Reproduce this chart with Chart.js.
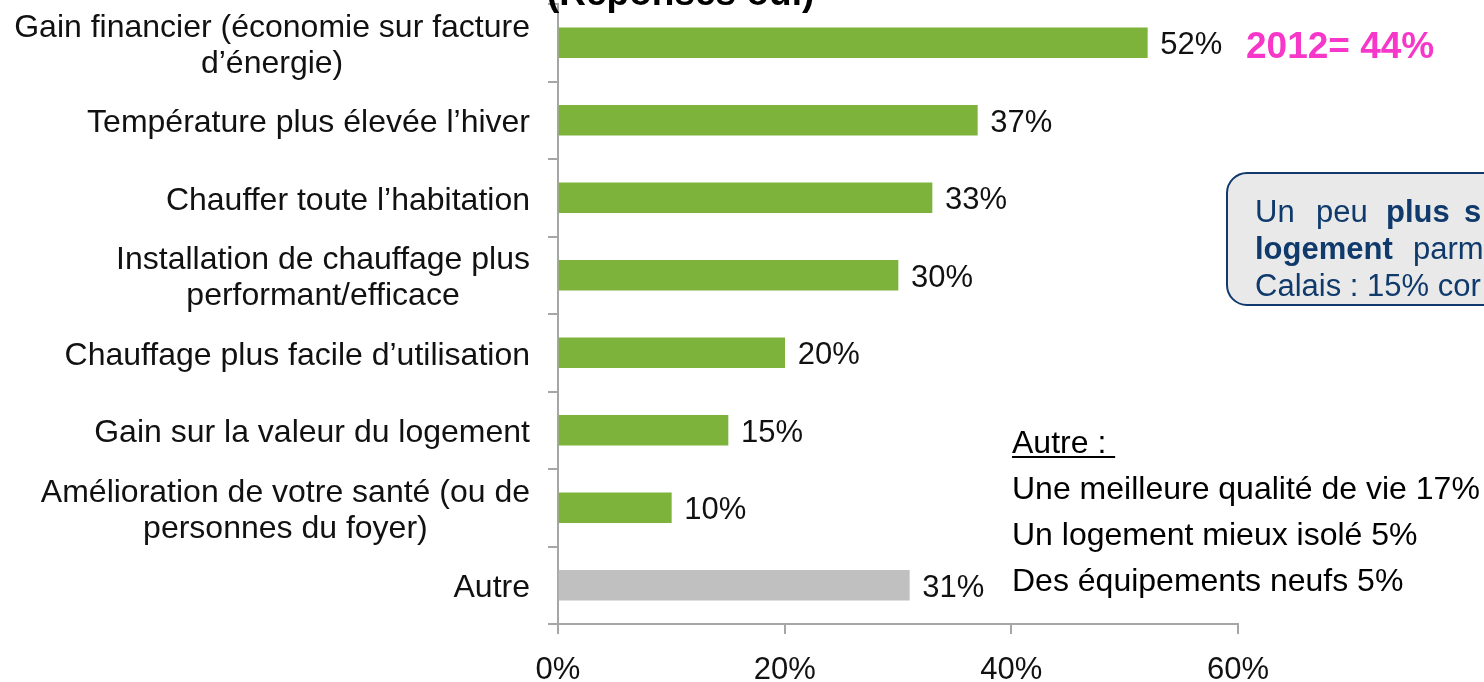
<!DOCTYPE html>
<html>
<head>
<meta charset="utf-8">
<script src="https://cdn.jsdelivr.net/npm/chart.js"></script>
<style>
body { margin: 0; background: #fff; }
canvas { display: block; }
</style>
</head>
<body>
<canvas id="chart" width="1484" height="682"></canvas>
<script>
const categories = [
  ["Gain financier (économie sur facture", "d’énergie)"],
  "Température plus élevée l’hiver",
  "Chauffer toute l’habitation",
  ["Installation de chauffage plus", "performant/efficace"],
  "Chauffage plus facile d’utilisation",
  "Gain sur la valeur du logement",
  ["Amélioration de votre santé (ou de", "personnes du foyer)"],
  "Autre"
];
const values = [52, 37, 33, 30, 20, 15, 10, 31];
const barColors = ["#7DB33A", "#7DB33A", "#7DB33A", "#7DB33A", "#7DB33A", "#7DB33A", "#7DB33A", "#C0C0C0"];
const xTicks = [0, 20, 40, 60];
const autreLines = ["Une meilleure qualité de vie 17%", "Un logement mieux isolé 5%", "Des équipements neufs 5%"];

const FONT = "'Liberation Sans', Arial, sans-serif";

const extras = {
  id: "extras",
  afterDraw(chart) {
    const ctx = chart.ctx;
    const xs = chart.scales.x;
    const ys = chart.scales.y;
    ctx.save();

    // category labels (multi-line centred, block right aligned)
    ctx.fillStyle = "#111";
    ctx.font = "32px " + FONT;
    ctx.textAlign = "center";
    ctx.textBaseline = "middle";
    categories.forEach((c, i) => {
      const lines = Array.isArray(c) ? c : [c];
      const w = Math.max(...lines.map(l => ctx.measureText(l).width));
      const cy = ys.getPixelForValue(i) + 3;
      lines.forEach((l, j) => {
        ctx.fillText(l, 530 - w / 2, cy + (j - (lines.length - 1) / 2) * 36);
      });
    });

    // value labels
    ctx.font = "31px " + FONT;
    ctx.textAlign = "left";
    values.forEach((v, i) => {
      ctx.fillText(v + "%", xs.getPixelForValue(v) + 13, ys.getPixelForValue(i) + 3);
    });

    // title (cut at top)
    ctx.textBaseline = "alphabetic";
    ctx.font = "bold 37px " + FONT;
    ctx.fillStyle = "#000";
    ctx.fillText("(Réponses oui)", 547, 5);

    // 2012 note
    ctx.fillStyle = "#F737C9";
    ctx.fillText("2012= 44%", 1246, 58);

    // comment box
    ctx.fillStyle = "#E9E9E9";
    ctx.strokeStyle = "#0F3A6B";
    ctx.lineWidth = 2;
    ctx.beginPath();
    const bx = 1227, by = 173, bw = 320, bh = 132, r = 20;
    ctx.moveTo(bx + r, by);
    ctx.lineTo(bx + bw, by);
    ctx.lineTo(bx + bw, by + bh);
    ctx.lineTo(bx + r, by + bh);
    ctx.arcTo(bx, by + bh, bx, by + bh - r, r);
    ctx.lineTo(bx, by + r);
    ctx.arcTo(bx, by, bx + r, by, r);
    ctx.closePath();
    ctx.fill();
    ctx.stroke();
    ctx.fillStyle = "#0F3A6B";
    const norm = "31px " + FONT, bold = "bold 31px " + FONT;
    const words = [
      ["Un", norm, 1255, 222], ["peu", norm, 1316, 222], ["plus", bold, 1386, 222], ["s", bold, 1464, 222],
      ["logement", bold, 1255, 259], ["parm", norm, 1413, 259],
      ["Calais : 15% cor", norm, 1255, 296]
    ];
    words.forEach(([t, f, x, y]) => { ctx.font = f; ctx.fillText(t, x, y); });

    // Autre detail list
    ctx.fillStyle = "#000";
    ctx.font = "32px " + FONT;
    ctx.fillText("Autre : ", 1012, 453);
    const uw = ctx.measureText("Autre : ").width;
    ctx.fillRect(1012, 456, uw, 2);
    autreLines.forEach((t, i) => ctx.fillText(t, 1012, 499 + i * 46));

    ctx.restore();
  }
};

new Chart(document.getElementById("chart"), {
  type: "bar",
  data: {
    labels: categories,
    datasets: [{
      data: values,
      backgroundColor: barColors,
      barThickness: 30
    }]
  },
  options: {
    indexAxis: "y",
    responsive: false,
    animation: false,
    layout: { padding: { top: 4, right: 246, left: 0, bottom: 0 } },
    plugins: { legend: { display: false }, tooltip: { enabled: false } },
    scales: {
      x: {
        min: 0,
        max: 60,
        afterBuildTicks: s => { s.ticks = xTicks.map(v => ({ value: v })); },
        afterFit: s => { s.height = 58; },
        ticks: {
          callback: v => v + "%",
          color: "#111",
          font: { family: FONT, size: 31 },
          padding: 18,
          maxRotation: 0
        },
        grid: { drawOnChartArea: false, tickLength: 10, color: "#A6A6A6", lineWidth: 2 },
        border: { color: "#A6A6A6", width: 2 }
      },
      y: {
        afterFit: s => { s.width = 558; },
        ticks: { display: false },
        grid: { drawOnChartArea: false, tickLength: 10, color: "#A6A6A6", lineWidth: 2, offset: true },
        border: { color: "#A6A6A6", width: 2 }
      }
    }
  },
  plugins: [extras]
});
</script>
</body>
</html>
